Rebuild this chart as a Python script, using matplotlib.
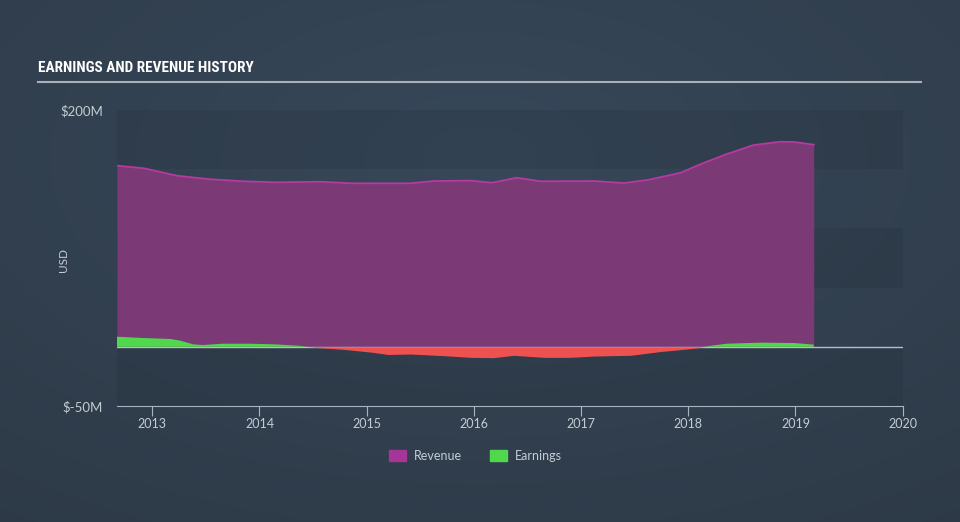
#! /usr/bin/env python3

import matplotlib.pyplot as plt
import numpy as np
from matplotlib.patches import Patch
from matplotlib import font_manager as fm

# revenue, $M
rev_t = [2012.67, 2012.92, 2013.23, 2013.54, 2013.85, 2014.16, 2014.57, 2014.85,
         2015.41, 2015.62, 2015.97, 2016.17, 2016.40, 2016.62, 2017.12, 2017.40,
         2017.62, 2017.93, 2018.11, 2018.36, 2018.61, 2018.86, 2018.99, 2019.17]
rev_v = [153.0, 150.8, 144.5, 141.5, 139.8, 138.9, 139.4, 138.1,
         138.1, 140.0, 140.3, 138.6, 142.8, 139.8, 140.0, 138.3,
         140.9, 147.0, 154.1, 162.8, 170.4, 173.2, 173.0, 170.7]

# earnings, $M
earn_t = [2012.67, 2012.92, 2013.17, 2013.26, 2013.38, 2013.47, 2013.66, 2013.91,
          2014.16, 2014.38, 2014.48, 2014.78, 2015.05, 2015.20, 2015.41, 2015.72,
          2015.97, 2016.18, 2016.37, 2016.65, 2016.90, 2017.12, 2017.46, 2017.73,
          2018.05, 2018.21, 2018.36, 2018.67, 2018.99, 2019.17]
earn_v = [8.5, 7.4, 6.6, 5.2, 2.1, 1.5, 2.6, 2.6,
          2.0, 0.8, -0.3, -2.1, -4.6, -6.5, -6.1, -7.5,
          -8.9, -9.2, -7.2, -8.9, -8.9, -7.8, -7.2, -4.1,
          -1.3, 0.9, 2.6, 3.5, 3.2, 1.8]

years = list(range(2013, 2021))


def narrow_font():
    for name in ['Roboto Condensed', 'Liberation Sans Narrow', 'Open Sans Condensed',
                 'DejaVu Sans Condensed', 'Roboto']:
        try:
            fm.findfont(fm.FontProperties(family=name), fallback_to_default=False)
            return name
        except Exception:
            pass
    return 'DejaVu Sans'


title_font = narrow_font()
label_font = 'Lato'

fig = plt.figure(figsize=(9.6, 5.22), dpi=100)

# background gradient
bg = fig.add_axes([0, 0, 1, 1])
yy, xx = np.mgrid[0:1:200j, 0:1:200j]
r = np.sqrt(((xx - 0.5) / 0.9) ** 2 + ((yy - 0.3) / 0.9) ** 2)
c0 = np.array([0x37, 0x48, 0x5a]) / 255
c1 = np.array([0x2d, 0x39, 0x46]) / 255
img = c0 + (c1 - c0) * np.clip(r, 0, 1)[..., None]
bg.imshow(img, aspect='auto', extent=[0, 1, 0, 1], origin='upper')
bg.axis('off')

t = fig.text(38 / 960, 1 - 68 / 522, 'EARNINGS AND REVENUE HISTORY', color='white',
             fontsize=11, fontweight='bold', family=title_font, va='center')
fig.canvas.draw()
w = t.get_window_extent().width
if w > 215:
    t.set_fontsize(max(9.5, 11 * 215 / w))
fig.add_artist(plt.Line2D([38 / 960, 921 / 960], [1 - 82 / 522] * 2,
                          color='#a9b0b8', lw=1.5))

ax = fig.add_axes([116.7 / 960, 116 / 522, 786 / 960, 296 / 522])
ax.patch.set_alpha(0)

for lo in [150, 50, -50]:
    ax.axhspan(lo, lo + 50, color='#1e2833', alpha=0.18, lw=0, zorder=0)

rt = np.array(rev_t)
rv = np.array(rev_v)
ax.fill_between(rt, rv, 0, color='#7b3a76', lw=0, zorder=2)
ax.plot(rt, rv, color='#b63aa0', lw=1.3, zorder=3)

ax.axhline(0, color='#b8bec4', lw=1, zorder=3)

et = np.array(earn_t)
ev = np.array(earn_v)
ax.fill_between(et, ev, 0, where=ev >= 0, interpolate=True, color='#50d84d', lw=0, zorder=4)
ax.fill_between(et, ev, 0, where=ev <= 0, interpolate=True, color='#ef5050', lw=0, zorder=4)

ax.set_xlim(2012.668, 2020.0)
ax.set_ylim(-50, 200)
ax.set_xticks(years)
ax.set_xticklabels([str(y) for y in years], family=label_font)
ax.set_yticks([200, -50])
ax.set_yticklabels(['$200M', '$-50M'], family=label_font)
for s in ['top', 'right', 'left']:
    ax.spines[s].set_visible(False)
ax.spines['bottom'].set_color('#aab4be')
ax.tick_params(axis='x', colors='#aab4be', length=7, labelcolor='#c5ccd3', labelsize=9, pad=2)
ax.tick_params(axis='y', length=0, labelcolor='#c5ccd3', labelsize=9.5, pad=10)
fig.text(64 / 960, 1 - 260 / 522, 'USD', color='#c5ccd3', fontsize=8.5, family=label_font,
         rotation=90, ha='center', va='center')

handles = [Patch(color='#a53596', label='Revenue'), Patch(color='#50d84d', label='Earnings')]
leg = fig.legend(handles=handles, loc='center', bbox_to_anchor=(0.495, 1 - 456 / 522), ncol=2,
                 frameon=False, prop={'family': label_font, 'size': 9}, handlelength=1.4,
                 handleheight=1.0, columnspacing=2.2, handletextpad=0.6)
for txt in leg.get_texts():
    txt.set_color('#c5ccd3')

plt.savefig('out.png', dpi=100)
